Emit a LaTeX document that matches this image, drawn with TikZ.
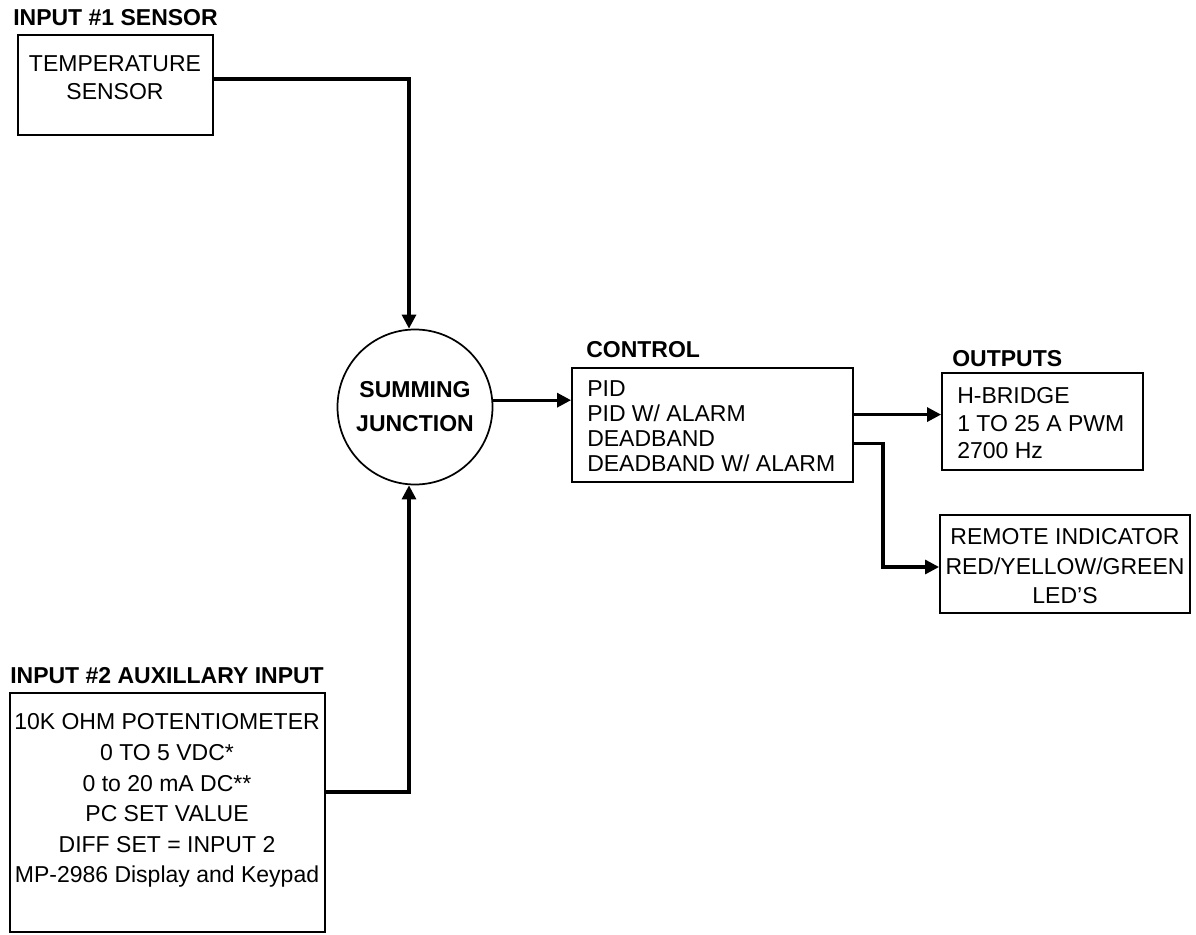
\documentclass[tikz,border=0pt]{standalone}
\usepackage{fontspec}
\setmainfont{Liberation Sans}
\usetikzlibrary{arrows.meta,calc}
\tikzset{
  box/.style={draw, line width=1.4pt, inner sep=0pt, rectangle},
  conn/.style={line width=2.3pt, -{Triangle[length=10.5pt,width=10.5pt]}},
  plainline/.style={line width=2.3pt},
  txt/.style={inner sep=0pt, font=\fontsize{17.25}{21}\selectfont},
  lbl/.style={inner sep=0pt, anchor=base west, font=\fontsize{17.25}{21}\selectfont\bfseries},
}
\begin{document}
\begin{tikzpicture}[x=0.75pt,y=-0.75pt]
\useasboundingbox (0,0) rectangle (1196,935);

% labels
\node[lbl] (l1) at (13,26) {INPUT \#1 SENSOR};
\node[lbl] (l2) at (10,683) {INPUT \#2 AUXILLARY INPUT};
\node[lbl] (l3) at (586,357) {CONTROL};
\node[lbl] (l4) at (952,366) {OUTPUTS};

% boxes
\node[box, minimum width=195*0.75pt, minimum height=100*0.75pt] (temp) at (115.5,85) {};
\node[box, minimum width=315*0.75pt, minimum height=239*0.75pt] (aux) at (167.5,812.5) {};
\node[box, minimum width=281*0.75pt, minimum height=114*0.75pt] (ctrl) at (712.5,425) {};
\node[box, minimum width=201*0.75pt, minimum height=97*0.75pt] (out) at (1042.5,421.5) {};
\node[box, minimum width=250*0.75pt, minimum height=98*0.75pt] (remote) at (1065,564) {};
\node[draw, circle, line width=1.3pt, inner sep=0pt, minimum size=155*0.75pt,
      align=center, font=\fontsize{17.25}{25.5}\selectfont\bfseries] (sum) at (415,407) {SUMMING\\JUNCTION};

% box texts
\node[txt, anchor=north, align=center, font=\fontsize{17.25}{21}\selectfont] (ttemp) at (115,55.5) {TEMPERATURE\\SENSOR};
\node[txt, anchor=north, align=center, font=\fontsize{17.25}{22.95}\selectfont] (taux) at (167,713.5)
  {10K OHM POTENTIOMETER\\0 TO 5 VDC*\\0 to 20 mA DC**\\PC SET VALUE\\DIFF SET = INPUT 2\\MP-2986 Display and Keypad};
\node[txt, anchor=north west, align=left, font=\fontsize{17.25}{18.75}\selectfont] (tctrl) at (587,380.5)
  {PID\\PID W/ ALARM\\DEADBAND\\DEADBAND W/ ALARM};
\node[txt, anchor=north west, align=left, font=\fontsize{17.25}{20.6}\selectfont] (tout) at (957,387.5)
  {H-BRIDGE\\1 TO 25 A PWM\\2700 Hz};
\node[txt, anchor=north, align=center, font=\fontsize{17.25}{22.1}\selectfont] (tremote) at (1065,528.5)
  {REMOTE INDICATOR\\RED/YELLOW/GREEN\\LED’S};

% connector bend points
\coordinate (c1) at (409,79);
\coordinate (c2) at (409,792);
\coordinate (c4) at (883,567);

% connectors
\draw[conn] (temp.east |- c1) -- (c1) -- (sum.north -| c1);
\draw[conn] (aux.east |- c2) -- (c2) -- (sum.south -| c2);
\draw[conn] (sum.5) -- (sum.5 -| ctrl.west);
\draw[conn] ($(ctrl.north east)!0.41!(ctrl.south east)$) coordinate (o1) -- (o1 -| out.west);
\draw[conn] ($(ctrl.north east)!0.66!(ctrl.south east)$) -| (c4) -- (remote.west |- c4);
\end{tikzpicture}
\end{document}
